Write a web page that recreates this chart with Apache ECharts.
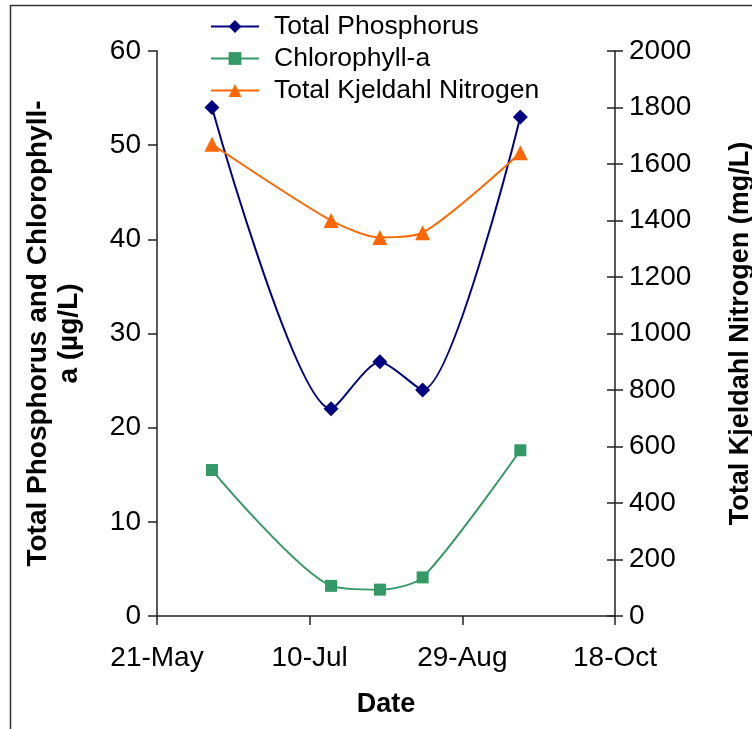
<!DOCTYPE html>
<html>
<head>
<meta charset="utf-8">
<script src="https://cdn.jsdelivr.net/npm/echarts@6/dist/echarts.min.js"></script>
<style>
  html, body { margin: 0; padding: 0; background: #fff; }
  #container { width: 752px; height: 729px; }
</style>
</head>
<body>
<div id="container"></div>
<script>
let chart = echarts.init(document.getElementById('container'));

// sampling dates and measured values
var startDate = '2007-05-21';
var dates = ['2007-06-08', '2007-07-17', '2007-08-02', '2007-08-16', '2007-09-17'];
var totalPhosphorus = [54, 22, 27, 24, 53];
var chlorophyll = [15.5, 3.2, 2.8, 4.1, 17.6];
var kjeldahlNitrogen = [1670, 1400, 1340, 1357, 1640];
var months = ['Jan','Feb','Mar','Apr','May','Jun','Jul','Aug','Sep','Oct','Nov','Dec'];

var DAY = 86400000;
var t0 = Date.parse(startDate);
function dayOf(d) { return Math.round((Date.parse(d) - t0) / DAY); }
function dateLabel(v) {
    var d = new Date(t0 + v * DAY);
    return d.getUTCDate() + '-' + months[d.getUTCMonth()];
}
function pairs(vals) {
    return vals.map((v, i) => [dayOf(dates[i]), v]);
}

var font = 'Liberation Sans';
var axisColor = '#222';

var option = {
    animation: false,
    textStyle: { fontFamily: font },
    legend: {
        orient: 'vertical',
        left: 205,
        top: 8,
        itemWidth: 48,
        itemHeight: 16,
        itemGap: 5,
        textStyle: {
            fontFamily: font,
            fontSize: 26.5,
            color: '#000',
            lineHeight: 26,
            padding: [0, 0, 0, 10],
        },
        data: ['Total Phosphorus', 'Chlorophyll-a', 'Total Kjeldahl Nitrogen'],
    },
    grid: {
        left: 157,
        right: 137,
        top: 51,
        bottom: 113,
        outerBoundsMode: 'none',
    },
    graphic: [{
        type: 'rect',
        shape: { x: 10.5, y: 5.5, width: 800, height: 800 },
        style: { fill: 'none', stroke: '#333', lineWidth: 1.5 },
        silent: true,
    }],
    xAxis: {
        type: 'value',
        min: 0,
        max: 150,
        interval: 50,
        name: 'Date',
        nameLocation: 'middle',
        nameGap: 75,
        nameTextStyle: { fontFamily: font, fontSize: 27, fontWeight: 'bold', color: '#000' },
        splitLine: { show: false },
        axisLine: { lineStyle: { color: axisColor, width: 1.5 } },
        axisTick: { length: 9, lineStyle: { color: axisColor, width: 1.5 } },
        axisLabel: {
            margin: 28,
            fontSize: 28,
            color: '#000',
            formatter: dateLabel,
        },
    },
    yAxis: [{
        type: 'value',
        position: 'left',
        min: 0,
        max: 60,
        interval: 10,
        name: 'Total Phosphorus and Chlorophyll-\na (µg/L)',
        nameLocation: 'middle',
        nameRotate: 90,
        nameGap: 72,
        nameTextStyle: { fontFamily: font, fontSize: 28, fontWeight: 'bold', color: '#000', lineHeight: 31, align: 'center' },
        splitLine: { show: false },
        axisLine: { show: true, lineStyle: { color: axisColor, width: 1.5 } },
        axisTick: { show: true, length: 9, lineStyle: { color: axisColor, width: 1.5 } },
        axisLabel: { margin: 16, fontSize: 28, color: '#000' },
    }, {
        type: 'value',
        position: 'right',
        min: 0,
        max: 2000,
        interval: 200,
        name: 'Total Kjeldahl Nitrogen (mg/L)',
        nameLocation: 'middle',
        nameRotate: 90,
        nameGap: 112,
        nameTextStyle: { fontFamily: font, fontSize: 27, fontWeight: 'bold', color: '#000' },
        splitLine: { show: false },
        axisLine: { show: true, lineStyle: { color: axisColor, width: 1.5 } },
        axisTick: { show: true, length: 8, lineStyle: { color: axisColor, width: 1.5 } },
        axisLabel: { margin: 14, fontSize: 28, color: '#000', formatter: v => String(v) },
    }, {
        // inner half of the crossing ticks on the right axis
        type: 'value',
        position: 'right',
        min: 0,
        max: 2000,
        interval: 200,
        splitLine: { show: false },
        axisLine: { show: false },
        axisTick: { show: true, inside: true, length: 8, lineStyle: { color: axisColor, width: 1.5 } },
        axisLabel: { show: false },
    }],
    series: [{
        name: 'Total Phosphorus',
        type: 'line',
        yAxisIndex: 0,
        smooth: 0.25,
        symbol: 'diamond',
        symbolSize: 15,
        itemStyle: { color: '#000080' },
        lineStyle: { color: '#000080', width: 2 },
        data: pairs(totalPhosphorus),
    }, {
        name: 'Chlorophyll-a',
        type: 'line',
        yAxisIndex: 0,
        smooth: 0.25,
        symbol: 'rect',
        symbolSize: 12,
        itemStyle: { color: '#339966' },
        lineStyle: { color: '#339966', width: 2 },
        data: pairs(chlorophyll),
    }, {
        name: 'Total Kjeldahl Nitrogen',
        type: 'line',
        yAxisIndex: 1,
        smooth: 0.25,
        symbol: 'triangle',
        symbolSize: 15,
        itemStyle: { color: '#FF6600' },
        lineStyle: { color: '#FF6600', width: 2 },
        data: pairs(kjeldahlNitrogen),
    }]
};

chart.setOption(option);
</script>
</body>
</html>
